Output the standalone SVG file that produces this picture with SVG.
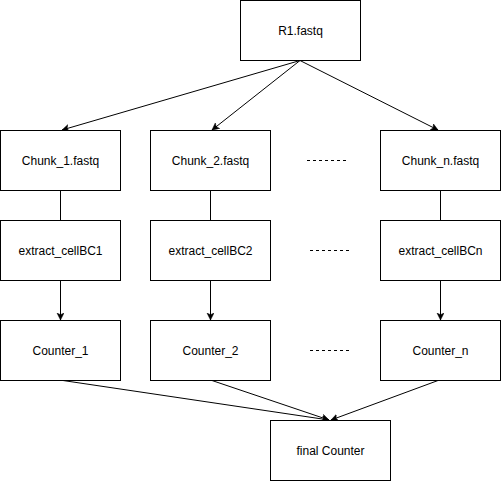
<svg xmlns="http://www.w3.org/2000/svg" width="501" height="481" viewBox="0 0 501 481">
<style>
.box{fill:#fff;stroke:#000;stroke-width:1}
.lbl{font-family:"Liberation Sans",Arial,sans-serif;font-size:12px;fill:#000;text-anchor:middle;dominant-baseline:central}
.edge{fill:none;stroke:#000;stroke-width:1}
.arr{marker-end:url(#ah)}
.dash{fill:none;stroke:#000;stroke-width:1;stroke-dasharray:3 3}
</style>
<defs>
<marker id="ah" markerUnits="userSpaceOnUse" markerWidth="8" markerHeight="8" refX="7" refY="3.5" orient="auto" viewBox="0 0 8 8">
<path d="M0,0 L7,3.5 L0,7 L1.75,3.5 Z" fill="#000" stroke="#000" stroke-width="0.5"/>
</marker>
</defs>
<rect width="501" height="481" fill="#fff"/>
<g id="connectors">
<path class="edge arr" d="M300,60.5 L62,130"/>
<path class="edge arr" d="M300,60.5 L212,130"/>
<path class="edge arr" d="M300,60.5 L438,130"/>
<path class="edge" d="M60.5,190.5 L60.5,220.5"/>
<path class="edge" d="M210.5,190.5 L210.5,220.5"/>
<path class="edge" d="M440.5,190.5 L440.5,220.5"/>
<path class="edge arr" d="M60.5,280.5 L60.5,320"/>
<path class="edge arr" d="M210.5,280.5 L210.5,320"/>
<path class="edge arr" d="M440.5,280.5 L440.5,320"/>
<path class="edge arr" d="M63,380.5 L329,420"/>
<path class="edge arr" d="M212,380.5 L329,420"/>
<path class="edge arr" d="M438,380.5 L331,420"/>
<path class="dash" d="M307,160.5 L346,160.5"/>
<path class="dash" d="M310,250.5 L349,250.5"/>
<path class="dash" d="M310,350.5 L349,350.5"/>
</g>
<g id="r1"><rect class="box" x="240.5" y="0.5" width="120" height="60"/><text class="lbl" x="300.5" y="30.5">R1.fastq</text></g>
<g id="chunk1"><rect class="box" x="0.5" y="130.5" width="120" height="60"/><text class="lbl" x="60.5" y="160.5">Chunk_1.fastq</text></g>
<g id="chunk2"><rect class="box" x="150.5" y="130.5" width="120" height="60"/><text class="lbl" x="210.5" y="160.5">Chunk_2.fastq</text></g>
<g id="chunkn"><rect class="box" x="380.5" y="130.5" width="120" height="60"/><text class="lbl" x="440.5" y="160.5">Chunk_n.fastq</text></g>
<g id="extract1"><rect class="box" x="0.5" y="220.5" width="120" height="60"/><text class="lbl" x="60.5" y="250.5">extract_cellBC1</text></g>
<g id="extract2"><rect class="box" x="150.5" y="220.5" width="120" height="60"/><text class="lbl" x="210.5" y="250.5">extract_cellBC2</text></g>
<g id="extractn"><rect class="box" x="380.5" y="220.5" width="120" height="60"/><text class="lbl" x="440.5" y="250.5">extract_cellBCn</text></g>
<g id="counter1"><rect class="box" x="0.5" y="320.5" width="120" height="60"/><text class="lbl" x="60.5" y="350.5">Counter_1</text></g>
<g id="counter2"><rect class="box" x="150.5" y="320.5" width="120" height="60"/><text class="lbl" x="210.5" y="350.5">Counter_2</text></g>
<g id="countern"><rect class="box" x="380.5" y="320.5" width="120" height="60"/><text class="lbl" x="440.5" y="350.5">Counter_n</text></g>
<g id="final"><rect class="box" x="270.5" y="420.5" width="120" height="60"/><text class="lbl" x="330.5" y="450.5">final Counter</text></g>
</svg>
